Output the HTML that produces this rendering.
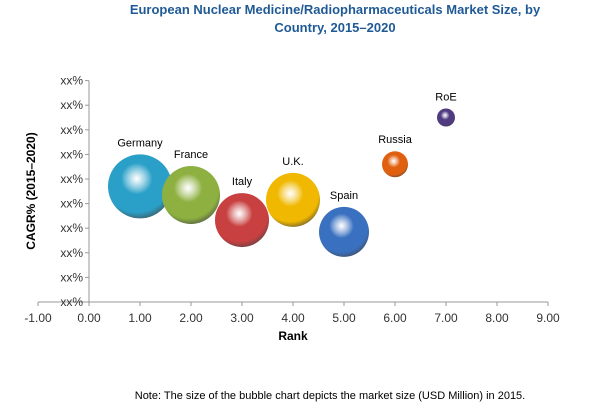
<!DOCTYPE html>
<html><head><meta charset="utf-8"><style>
body{margin:0;background:#fff;font-family:"Liberation Sans",sans-serif;}
svg text{font-family:"Liberation Sans",sans-serif;}
</style></head><body>
<svg width="600" height="409">
<defs id="defs"></defs>
<text x="335" y="14" text-anchor="middle" font-size="13" font-weight="bold" fill="#1f5a96">European Nuclear Medicine/Radiopharmaceuticals Market Size, by</text>
<text x="335" y="32" text-anchor="middle" font-size="13" font-weight="bold" fill="#1f5a96">Country, 2015–2020</text>
<g id="axes"></g>
<g id="bubbles"></g>
<text x="0" y="0" transform="translate(35,191) rotate(-90)" text-anchor="middle" font-size="12" font-weight="bold" fill="#000">CAGR% (2015–2020)</text>
<text x="293" y="340" text-anchor="middle" font-size="12" font-weight="bold" fill="#000">Rank</text>
<text x="330" y="399" text-anchor="middle" font-size="11" fill="#000">Note: The size of the bubble chart depicts the market size (USD Million) in 2015.</text>
</svg>
<script>
const countries=["Germany","France","Italy","U.K.","Spain","Russia","RoE"];
const ranks=[1,2,3,4,5,6,7];
const cagr=[4.7,4.35,3.33,4.15,2.85,5.6,7.5];
const sizes=[1024,841,729,729,625,169,81];
const colors=["#2aa0c8","#8db040","#c84040","#f0b800","#3a70c0","#e06010","#503a80"];
const xTicks=[-1,0,1,2,3,4,5,6,7,8,9];
const yTicks=[0,1,2,3,4,5,6,7,8,9];
const yTickLabel="xx%";
const NS="http://www.w3.org/2000/svg";
const X=v=>89+v*51, Y=v=>302-v*24.6;
function mk(t,a,p){const e=document.createElementNS(NS,t);for(const k in a)e.setAttribute(k,a[k]);p.appendChild(e);return e;}
const ax=document.getElementById('axes');
let l=mk('line',{x1:X(-1),x2:X(9),y1:Y(0),y2:Y(0),stroke:'#999'},ax);


l=mk('line',{x1:X(0),x2:X(0),y1:Y(9),y2:Y(0),stroke:'#999'},ax);


xTicks.forEach(v=>{mk('line',{x1:X(v),x2:X(v),y1:Y(0),y2:Y(0)+4,stroke:'#999'},ax);
const t=mk('text',{x:X(v),y:Y(0)+20,'text-anchor':'middle','font-size':12,fill:'#333'},ax);t.textContent=v.toFixed(2);

});
yTicks.forEach(v=>{mk('line',{x1:X(0)-4,x2:X(0),y1:Y(v),y2:Y(v),stroke:'#999'},ax);
const t=mk('text',{x:X(0)-6,y:Y(v)+4,'text-anchor':'end','font-size':12,fill:'#333'},ax);t.textContent=yTickLabel;

});
const defs=document.getElementById('defs'),bg=document.getElementById('bubbles');
countries.forEach((c,i)=>{
 const g=mk('radialGradient',{id:'g'+i,cx:'0.45',cy:'0.38',r:'0.7'},defs);
 mk('stop',{offset:'0','stop-color':'#fff','stop-opacity':'0.8'},g);
 mk('stop',{offset:'0.35','stop-color':colors[i]},g);
 mk('stop',{offset:'0.75','stop-color':colors[i]},g);
 mk('stop',{offset:'1','stop-color':'#444'},g);
 const r=Math.sqrt(sizes[i]);
 const cx=X(ranks[i]),cy=Y(cagr[i]);
 const b=mk('circle',{cx:cx,cy:cy,r:r,fill:'url(#g'+i+')'},bg);
 
 
 const t=mk('text',{x:cx,y:cy-r-8,'text-anchor':'middle','font-size':11,fill:'#000'},bg);t.textContent=c;
 
 
});
</script>
</body></html>
